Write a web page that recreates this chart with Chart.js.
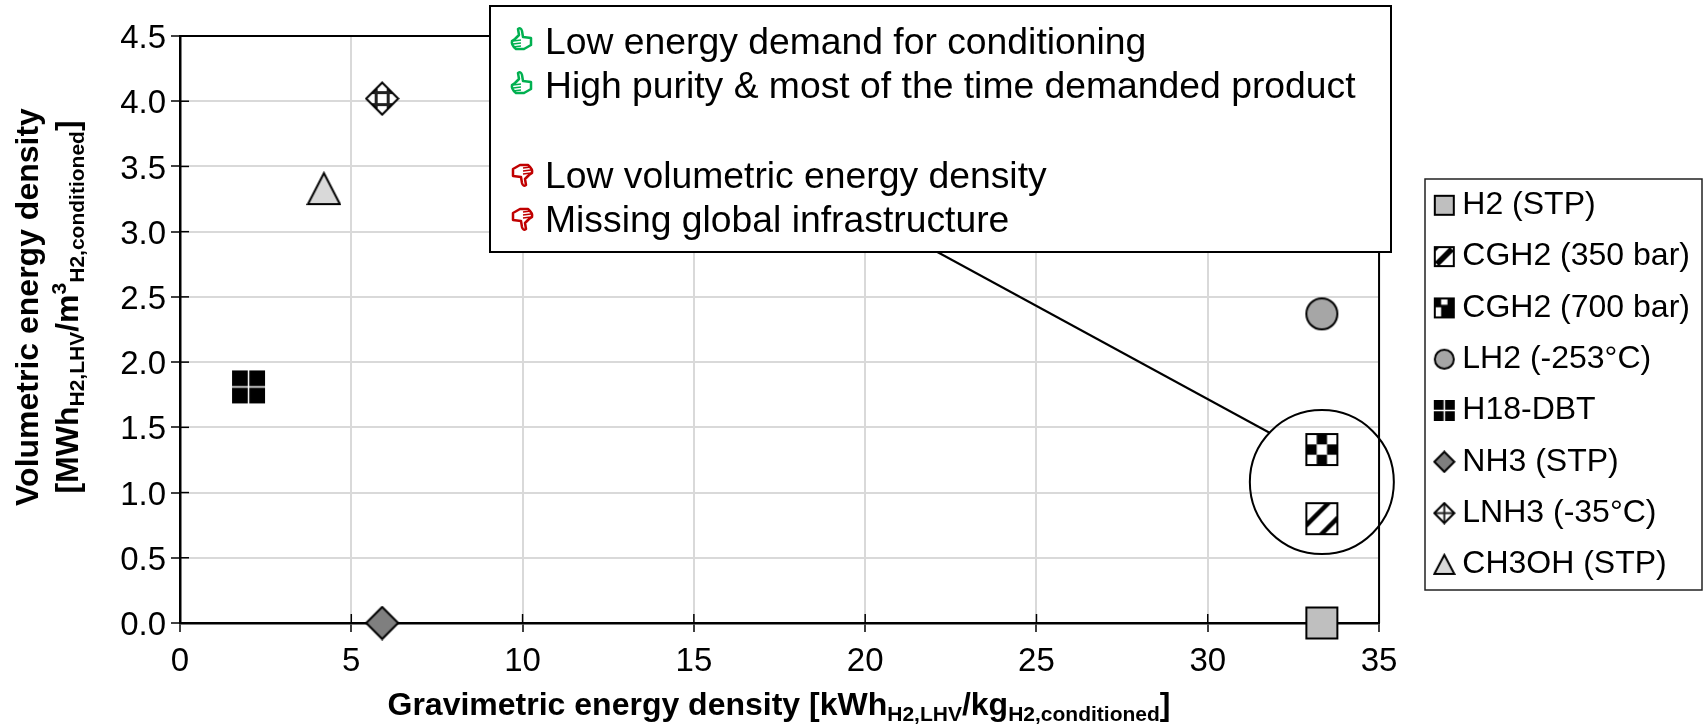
<!DOCTYPE html>
<html><head><meta charset="utf-8">
<style>html,body{margin:0;padding:0;background:#fff}canvas{display:block}</style>
<script src="https://cdn.jsdelivr.net/npm/chart.js@4"></script>
</head><body>
<div style="width:1703px;height:728px"><canvas id="c" width="1703" height="728"></canvas></div>
<script>
const seriesNames = ['H2 (STP)','CGH2 (350 bar)','CGH2 (700 bar)','LH2 (-253°C)','H18-DBT','NH3 (STP)','LNH3 (-35°C)','CH3OH (STP)'];
const gravimetric = [33.33,33.33,33.33,33.33,2.0,5.9,5.9,4.2];
const volumetric  = [0.0,0.8,1.33,2.37,1.81,0.0,4.02,3.33];
const xTicks = [0,5,10,15,20,25,30,35];
const yTicks = [0,0.5,1,1.5,2,2.5,3,3.5,4,4.5];
const prosList = ['Low energy demand for conditioning','High purity & most of the time demanded product'];
const consList = ['Low volumetric energy density','Missing global infrastructure'];
const FONT = '"Liberation Sans", Arial, sans-serif';

function sprite(s, fn){
  const c=document.createElement('canvas');c.width=s+2;c.height=s+2;
  const g=c.getContext('2d');g.translate(1,1);g.lineWidth=2;g.strokeStyle='#000';g.lineJoin='miter';fn(g,s);return c;
}
const sq=(fill)=>(g,s)=>{g.fillStyle=fill;g.fillRect(1,1,s-2,s-2);g.strokeRect(1,1,s-2,s-2);};
const circ=(fill)=>(g,s)=>{g.fillStyle=fill;g.beginPath();g.arc(s/2,s/2,s/2-1,0,7);g.fill();g.stroke();};
const diamondPath=(g,s)=>{g.beginPath();g.moveTo(s/2,0.5);g.lineTo(s-0.5,s/2);g.lineTo(s/2,s-0.5);g.lineTo(0.5,s/2);g.closePath();};
const diam=(fill)=>(g,s)=>{g.fillStyle=fill;diamondPath(g,s);g.fill();g.stroke();};
const tri=(fill)=>(g,s)=>{g.fillStyle=fill;g.beginPath();g.moveTo(s/2,1);g.lineTo(s-0.5,s-1);g.lineTo(0.5,s-1);g.closePath();g.fill();g.stroke();};
const diagonal=(g,s)=>{
  g.fillStyle='#fff';g.fillRect(1,1,s-2,s-2);
  g.save();g.beginPath();g.rect(1,1,s-2,s-2);g.clip();g.strokeStyle='#000';g.lineWidth=4.5;
  [-33,-9,15,39].forEach(a=>{g.beginPath();g.moveTo(a,s);g.lineTo(a+s,0);g.stroke();});
  g.restore();g.lineWidth=2;g.strokeRect(1,1,s-2,s-2);
};
const diagonalSmall=(g,s)=>{
  g.fillStyle='#fff';g.fillRect(1,1,s-2,s-2);
  g.fillStyle='#000';g.beginPath();g.moveTo(s-5,1);g.lineTo(s-1,5);g.lineTo(5,s-1);g.lineTo(1,s-5);g.closePath();g.fill();
  g.fillStyle='#000';g.beginPath();g.moveTo(1,1);g.lineTo(6,1);g.lineTo(1,6);g.closePath();g.fill();
  g.strokeRect(1,1,s-2,s-2);
};
const checker=(g,s)=>{
  g.fillStyle='#fff';g.fillRect(1,1,s-2,s-2);g.fillStyle='#000';
  const u=(s-2)/3;[[1,0],[0,1],[2,1],[1,2]].forEach(([i,j])=>g.fillRect(1+i*u,1+j*u,u,u));
  g.strokeRect(1,1,s-2,s-2);
};
const checkerSmall=(g,s)=>{
  g.fillStyle='#000';g.fillRect(1,1,s-2,s-2);g.fillStyle='#fff';
  const u=(s-2)/3;
  g.fillRect(1+u,1,u,u);g.fillRect(1,1+u+u*0.4,u,u*1.6);
  g.strokeRect(1,1,s-2,s-2);
};
const plusBlock=(g,s)=>{
  g.fillStyle='#000';g.fillRect(0,0,s,s);g.fillStyle='#fff';g.fillRect(s/2-0.75,0,1.5,s);g.fillRect(0,s/2-0.75,s,1.5);
};
const hatchDiamond=(g,s)=>{
  g.fillStyle='#fff';diamondPath(g,s);g.fill();
  g.save();diamondPath(g,s);g.clip();g.strokeStyle='#222';g.lineWidth=s>24?3:2;
  const offs=s>24?[-6,6]:[0];
  offs.forEach(k=>{const p=s/2+k;
    g.beginPath();g.moveTo(p,0);g.lineTo(p,s);g.moveTo(0,p);g.lineTo(s,p);g.stroke();});
  g.restore();g.lineWidth=2;diamondPath(g,s);g.stroke();
};
const markerStyles=[
  [sq('#bfbfbf'),sq('#bfbfbf')],[diagonal,diagonalSmall],[checker,checkerSmall],[circ('#a6a6a6'),circ('#a6a6a6')],
  [plusBlock,plusBlock],[diam('#7f7f7f'),diam('#7f7f7f')],[hatchDiamond,hatchDiamond],[tri('#d9d9d9'),tri('#d9d9d9')]
];
const chartSprites=markerStyles.map(m=>sprite(33,m[0]));
const legendSprites=markerStyles.map(m=>sprite(21,m[1]));

const datasets=seriesNames.map((n,i)=>({label:n,data:[{x:gravimetric[i],y:volumetric[i]}],showLine:false,clip:false,
  pointStyle:chartSprites[i],pointRadius:16,pointHoverRadius:16,backgroundColor:'#000',borderColor:'#000'}));

function thumb(ctx,x,y,up,color){
  ctx.save();ctx.translate(x,y);if(!up)ctx.scale(-1,-1);
  ctx.strokeStyle=color;ctx.lineWidth=2.5;ctx.lineJoin='round';ctx.fillStyle='#fff';
  ctx.beginPath();
  ctx.moveTo(-7,-1);ctx.lineTo(-3,-5);ctx.lineTo(-4,-11);ctx.quadraticCurveTo(-1,-13,0,-9);ctx.lineTo(1,-3);
  ctx.lineTo(9,-2);ctx.lineTo(9,5);ctx.lineTo(2,9);ctx.lineTo(-6,9);ctx.quadraticCurveTo(-11,5,-10,1);ctx.closePath();
  ctx.fill();ctx.stroke();
  ctx.lineWidth=1.5;
  [0,3,6].forEach(d=>{ctx.beginPath();ctx.moveTo(-9,1+d);ctx.lineTo(-1,0+d);ctx.stroke();});
  ctx.restore();
}
function richText(ctx,parts,x,y,size){
  let cx=x;
  parts.forEach(([t,k])=>{
    const s=k==='n'?size:Math.round(size*0.66);
    ctx.font='bold '+s+'px '+FONT;
    const dy=k==='sub'?size*0.2:(k==='sup'?-size*0.38:0);
    ctx.fillText(t,cx,y+dy);cx+=ctx.measureText(t).width;
  });
  return cx-x;
}
function richWidth(ctx,parts,size){
  let w=0;parts.forEach(([t,k])=>{ctx.font='bold '+(k==='n'?size:Math.round(size*0.66))+'px '+FONT;w+=ctx.measureText(t).width;});return w;
}
const xTitleParts=[['Gravimetric energy density [kWh','n'],['H2,LHV','sub'],['/kg','n'],['H2,conditioned','sub'],[']','n']];
const yTitle1=[['Volumetric energy density','n']];
const yTitle2=[['[MWh','n'],['H2,LHV','sub'],['/m','n'],['3','sup'],['H2,conditioned','sub'],[']','n']];

const decor={
  id:'decor',
  beforeDraw(chart){
    const L=chart.legend;L.left=1423;L.right=1703;L.top=170;L.bottom=728;
    chart.scales.y.getLabelItems(chart.chartArea).forEach(i=>{i.textOffset+=3;});
  },
  beforeDatasetsDraw(chart){
    const {ctx,chartArea:a,scales:{x,y}}=chart;
    ctx.save();ctx.strokeStyle='#000';ctx.lineWidth=2;
    ctx.beginPath();
    ctx.moveTo(a.left,a.top);ctx.lineTo(a.right,a.top);ctx.lineTo(a.right,a.bottom);
    ctx.stroke();
    ctx.lineWidth=1.5;
    xTicks.forEach(v=>{const p=x.getPixelForValue(v);ctx.beginPath();ctx.moveTo(p,a.bottom);ctx.lineTo(p,a.bottom-9);ctx.stroke();});
    yTicks.forEach(v=>{const p=y.getPixelForValue(v);ctx.beginPath();ctx.moveTo(a.left,p);ctx.lineTo(a.left+9,p);ctx.stroke();});
    ctx.restore();
  },
  afterDatasetsDraw(chart){
    const {ctx,scales:{x,y}}=chart;
    ctx.save();
    const cx=x.getPixelForValue(33.33),cy=y.getPixelForValue(1.08);
    ctx.strokeStyle='#000';ctx.lineWidth=2;
    ctx.beginPath();ctx.arc(cx,cy,72,0,Math.PI*2);ctx.stroke();
    ctx.beginPath();ctx.moveTo(1270,433);ctx.lineTo(930,248);ctx.stroke();
    ctx.fillStyle='#fff';ctx.fillRect(490,6,901,246);ctx.strokeRect(490,6,901,246);
    ctx.fillStyle='#000';ctx.textBaseline='alphabetic';ctx.textAlign='left';
    const rows=[[prosList[0],55,true],[prosList[1],99,true],[consList[0],189,false],[consList[1],233,false]];
    rows.forEach(([t,yy,up])=>{ctx.fillStyle='#000';ctx.font='37.3px '+FONT;ctx.fillText(t,545,yy-1);thumb(ctx,522,yy-15,up,up?'#00b050':'#c00000');});
    ctx.strokeStyle='#222';ctx.lineWidth=1.5;ctx.strokeRect(1425,179,277,411);
    ctx.fillStyle='#000';
    const sz=32;
    const w=richWidth(ctx,xTitleParts,sz);
    richText(ctx,xTitleParts,779-w/2,715,sz);
    [[yTitle1,38],[yTitle2,78]].forEach(([p,xx])=>{
      ctx.save();ctx.translate(xx,307);ctx.rotate(-Math.PI/2);
      const ww=richWidth(ctx,p,sz);richText(ctx,p,-ww/2,0,sz);ctx.restore();
    });
    ctx.restore();
  }
};

new Chart(document.getElementById('c'),{
  type:'scatter',
  data:{datasets},
  plugins:[decor],
  options:{
    responsive:false,animation:false,devicePixelRatio:1,
    layout:{padding:{left:0,right:47,top:36,bottom:0}},
    plugins:{
      tooltip:{enabled:false},
      title:{display:false},
      legend:{
        display:true,position:'right',align:'start',
        labels:{
          usePointStyle:true,pointStyleWidth:4,padding:19.3,color:'#000',
          font:{family:FONT,size:32},
          generateLabels(chart){
            return seriesNames.map((n,i)=>({text:n,datasetIndex:i,pointStyle:legendSprites[i],fontColor:'#000',hidden:false,lineWidth:0,fillStyle:'#000',strokeStyle:'#000'}));
          }
        }
      }
    },
    scales:{
      x:{type:'linear',min:0,max:35,
        afterFit(s){s.height=105;},
        afterBuildTicks(s){s.ticks=xTicks.map(v=>({value:v}));},
        border:{color:'#000',width:2.5},
        grid:{color:'#d9d9d9',lineWidth:2,tickColor:'#000',tickLength:9,tickWidth:1.5},
        ticks:{color:'#000',font:{family:FONT,size:33},padding:10,maxRotation:0,callback:v=>String(v)}},
      y:{type:'linear',min:0,max:4.5,
        afterFit(s){s.width=180;},
        afterBuildTicks(s){s.ticks=yTicks.map(v=>({value:v}));},
        border:{color:'#000',width:2.5},
        grid:{color:'#d9d9d9',lineWidth:2,tickColor:'#000',tickLength:9,tickWidth:1.5},
        ticks:{color:'#000',font:{family:FONT,size:33},padding:5,callback:v=>v.toFixed(1)}}
    }
  }
});
</script>
</body></html>
